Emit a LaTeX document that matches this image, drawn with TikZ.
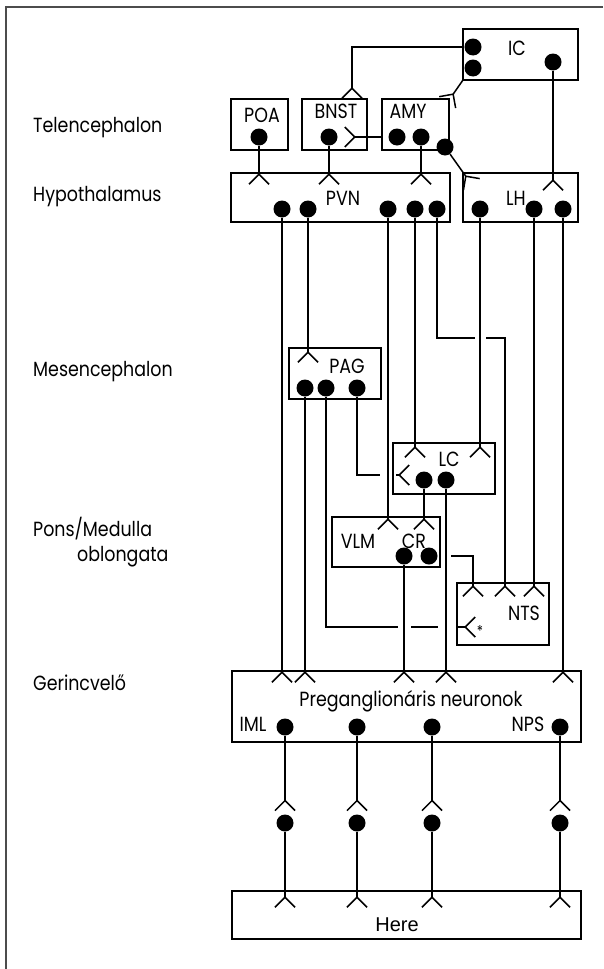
\documentclass[tikz,border=0pt]{standalone}
\usepackage{fontspec}
\setmainfont{Poppins}[FakeStretch=0.85]
\newfontfamily\herefont{Liberation Sans}
\usetikzlibrary{arrows.meta,fit,positioning}
\tikzset{
  frame/.style={draw=black!70,line width=1.6pt},
  cell/.style={draw,line width=1.5pt,inner sep=0pt,outer sep=0pt}, % nucleus box
  soma/.style={circle,fill=black,inner sep=0pt,minimum size=17pt}, % cell body
  axon/.style={line width=1.5pt},
  syn/.style={-{Straight Barb[reversed,length=10pt,width=20pt]}},  % synapse fork
  lvl/.style={anchor=base west,inner sep=0pt,font=\fontsize{20.5}{22}\selectfont},
  nlab/.style={anchor=base,inner sep=0pt,font=\fontsize{20.5}{22}\selectfont},
}

\begin{document}
\begin{tikzpicture}[x=1pt,y=-1pt]
  \useasboundingbox (0,0) rectangle (603,969);
  \draw[frame] (603,7) -- (6,7) -- (6,969);

  % levels
  \node[lvl] (tel) at (33,132) {Telencephalon};
  \node[lvl] (hyp) at (33,201) {Hypothalamus};
  \node[lvl] (mes) at (33,376) {Mesencephalon};
  \node[lvl] (pons) at (33,536) {Pons/Medulla};
  \node[lvl] (obl) at (77,561) {oblongata};
  \node[lvl] (ger) at (33,690) {Gerincvelő};

  % nuclei
  \node[cell,fit={(463,29) (578,80)}] (icbox) {};
  \node[cell,fit={(231,99) (288,150)}] (poabox) {};
  \node[cell,fit={(302,99) (367,150)}] (bnstbox) {};
  \node[cell,fit={(382,99) (449,150)}] (amybox) {};
  \node[cell,fit={(231,173) (450,222)}] (pvnbox) {};
  \node[cell,fit={(463,173) (578,222)}] (lhbox) {};
  \node[cell,fit={(289,348) (381,399)}] (pagbox) {};
  \node[cell,fit={(393,443) (495,494)}] (lcbox) {};
  \node[cell,fit={(332,517) (440,567)}] (vlmbox) {};
  \node[cell,fit={(457,583) (549,645)}] (ntsbox) {};
  \node[cell,fit={(232,671) (581,742)}] (pregbox) {};
  \node[cell,fit={(232,891) (581,939)}] (herebox) {};

  \node[nlab] (iclab) at (517,55) {IC};
  \node[nlab] (poalab) at (262,122) {POA};
  \node[nlab] (bnstlab) at (336,118) {BNST};
  \node[nlab] (amylab) at (408,118) {AMY};
  \node[nlab] (pvnlab) at (343,205) {PVN};
  \node[nlab] (lhlab) at (516,205) {LH};
  \node[nlab] (paglab) at (347,373) {PAG};
  \node[nlab] (lclab) at (449,466) {LC};
  \node[nlab] (vlmlab) at (358,548) {VLM};
  \node[nlab] (crlab) at (414,548) {CR};
  \node[nlab] (ntslab) at (524,620) {NTS};
  \node[nlab] (preglab) at (411,706) {Preganglionáris neuronok};
  \node[nlab] (imllab) at (253,731) {IML};
  \node[nlab] (npslab) at (528,731) {NPS};
  \node[nlab,font=\herefont\fontsize{20}{22}\selectfont] (herelab) at (397,931) {Here};
  \node[font=\fontsize{15}{16}\selectfont,inner sep=0pt] (ast) at (480,631) {*};

  % cell bodies
  \node[soma] (ic1) at (473,47) {};
  \node[soma] (ic2) at (473,68) {};
  \node[soma] (ic3) at (553,62) {};
  \node[soma] (poa) at (259,137) {};
  \node[soma] (bnst) at (329,137) {};
  \node[soma] (amy1) at (397,137) {};
  \node[soma] (amy2) at (421,137) {};
  \node[soma] (amy3) at (445,147) {};
  \foreach \n/\x in {1/282,2/308,3/388,4/415,5/437}
    \node[soma] (pvn\n) at (\x,209) {};
  \foreach \n/\x in {1/480,2/534,3/563}
    \node[soma] (lh\n) at (\x,209) {};
  \foreach \n/\x in {1/305,2/326,3/357}
    \node[soma] (pag\n) at (\x,388) {};
  \node[soma] (lc1) at (424,480) {};
  \node[soma] (lc2) at (446,480) {};
  \node[soma] (cr1) at (404,556) {};
  \node[soma] (cr2) at (429,556) {};
  \foreach \n/\x in {1/285,2/357,3/432,4/560} {
    \node[soma] (pg\n) at (\x,727) {};
    \node[soma] (gg\n) at (\x,823) {};
  }

  % free ends and line hops
  \coordinate (ic-amy) at (447,103);
  \coordinate (amy-lh) at (472,185);
  \coordinate (hop1) at (475,338);
  \coordinate (hop2) at (486,338);
  \coordinate (nts2) at (505,597);
  \coordinate (hop3) at (451,556);
  \coordinate (nts1) at (473,597);
  \coordinate (hop4) at (398,627);
  \coordinate (hop5) at (411,627);
  \coordinate (hop6) at (438,627);
  \coordinate (hop7) at (457,627);
  \coordinate (nts-in) at (476,627);
  \coordinate (hop8) at (380,475);
  \coordinate (lc-stem) at (396,475);
  \coordinate (lc-in) at (410,475);

  % telencephalon
  \draw[axon,syn] (ic1) -| ([xshift=17.5pt]bnstbox.north);
  \draw[axon,syn] (icbox.south west) -- (ic-amy);
  \draw[axon,syn] (ic3) -- ([yshift=-18pt]lhbox.north -| ic3);
  \draw[axon,syn] (amybox.west |- amy1) -- ([xshift=-23pt]bnstbox.east |- amy1);
  \draw[axon,syn] (amy3) -- (amy-lh);
  \foreach \s in {poa,bnst,amy2}
    \draw[axon,syn] (\s) -- ([yshift=-12pt]pvnbox.north -| \s);

  % hypothalamus
  \draw[axon,syn] (pvn1) -- ([yshift=-12pt]pregbox.north -| pvn1);
  \draw[axon,syn] (pvn2) -- ([yshift=-15pt]pagbox.north -| pvn2);
  \draw[axon,syn] (pvn3) -- ([yshift=-13pt]vlmbox.north -| pvn3);
  \draw[axon,syn] (pvn4) -- ([yshift=-15pt]lcbox.north -| pvn4);
  \draw[axon] (pvn5) |- (hop1);
  \draw[axon,syn] (hop2) -| (nts2);
  \draw[axon,syn] (lh1) -- ([yshift=-15pt]lcbox.north -| lh1);
  \draw[axon,syn] (lh2) -- ([yshift=-14pt]ntsbox.north -| lh2);
  \draw[axon,syn] (lh3) -- ([yshift=-12pt]pregbox.north -| lh3);

  % mesencephalon
  \draw[axon,syn] (pag1) -- ([yshift=-12pt]pregbox.north -| pag1);
  \draw[axon] (pag2) |- (hop4);
  \draw[axon] (hop5) -- (hop6);
  \draw[axon,syn] (hop7) -- (nts-in);
  \draw[axon] (pag3) |- (hop8);
  \draw[axon,syn] (lc-stem) -- (lc-in);

  % pons / medulla
  \draw[axon,syn] (lc1) -- ([yshift=-13pt]vlmbox.north -| lc1);
  \draw[axon,syn] (lc2) -- ([yshift=-12pt]pregbox.north -| lc2);
  \draw[axon,syn] (cr1) -- ([yshift=-12pt]pregbox.north -| cr1);
  \draw[axon,syn] (hop3) -| (nts1);

  % spinal cord and ganglia
  \foreach \n in {1,...,4} {
    \draw[axon,syn] (pg\n) -- ([yshift=3pt]gg\n.north);
    \draw[axon,syn] (gg\n) -- ([yshift=-17pt]herebox.north -| gg\n);
  }
\end{tikzpicture}
\end{document}
